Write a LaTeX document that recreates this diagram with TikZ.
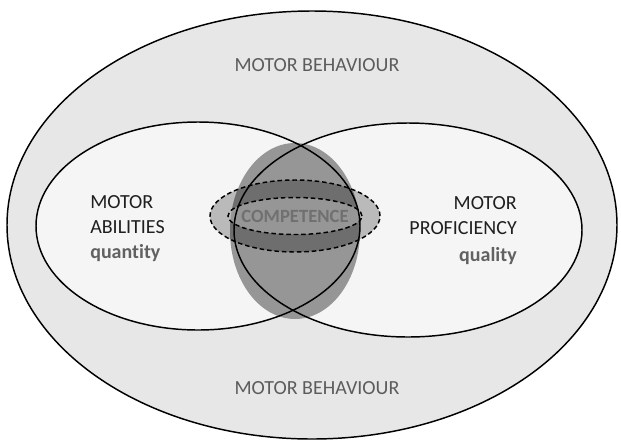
\documentclass[tikz,border=0pt]{standalone}
\usepackage{fontspec}
\setmainfont{Carlito}[Ligatures=NoCommon]
\begin{document}
\begin{tikzpicture}[x=0.75pt,y=-0.75pt,
  ring/.style={line width=1.1pt,draw=black},
  dashring/.style={line width=1.1pt,draw=black,dash pattern=on 3.4pt off 2.2pt},
  lbl/.style={inner sep=0pt,font=\fontsize{15}{18}\selectfont,text=black!88},
  sub/.style={inner sep=0pt,font=\fontsize{15}{18}\selectfont\bfseries,text=black!62},
  beh/.style={inner sep=0pt,font=\fontsize{15}{18}\selectfont,text=black!64}]
\useasboundingbox (0,0) rectangle (621,440);
\fill[white] (0,0) rectangle (621,440);
% outer region
\fill[black!9.5] (312,225) ellipse [x radius=228.75pt, y radius=160.5pt];
% the two overlapping sets
\fill[black!4] (198,226) ellipse [x radius=121.5pt, y radius=78pt];
\fill[black!4] (408,230) ellipse [x radius=130.5pt, y radius=80.25pt];
% competence band and core
\fill[black!27] (295,216) ellipse [x radius=63.75pt, y radius=27pt];
\fill[black!41] (295,231) ellipse [x radius=48.75pt, y radius=66pt];
\begin{scope}
  \clip (295,231) ellipse [x radius=48.75pt, y radius=66pt];
  \fill[black!57,even odd rule] (295,216) ellipse [x radius=63.75pt, y radius=27pt]
       (295,216) ellipse [x radius=50.25pt, y radius=13.875pt];
\end{scope}
% outlines
\draw[ring] (312,225) ellipse [x radius=228.75pt, y radius=160.5pt];
\draw[ring] (198,226) ellipse [x radius=121.5pt, y radius=78pt];
\draw[ring] (408,230) ellipse [x radius=130.5pt, y radius=80.25pt];
\draw[dashring] (295,216) ellipse [x radius=63.75pt, y radius=27pt];
\draw[dashring] (295,216) ellipse [x radius=50.25pt, y radius=13.875pt];
% labels
\node[beh,anchor=base] (behtop) at (317,71.5) {MOTOR BEHAVIOUR};
\node[beh,anchor=base] (behbot) at (317,394.5) {MOTOR BEHAVIOUR};
\node[lbl,anchor=base west] (ab1) at (90,208.5) {MOTOR};
\node[lbl,anchor=base west] (ab2) at (90,233.5) {ABILITIES};
\node[sub,anchor=base west] (ab3) at (90,258) {quantity};
\node[lbl,anchor=base east] (pr1) at (517,209.5) {MOTOR};
\node[lbl,anchor=base east] (pr2) at (517,234.5) {PROFICIENCY};
\node[sub,anchor=base east] (pr3) at (517,261) {quality};
\node[inner sep=0pt,font=\fontsize{14}{16}\selectfont\bfseries,text=black!56] (comp) at (295,216) {COMPETENCE};
\end{tikzpicture}
\end{document}
